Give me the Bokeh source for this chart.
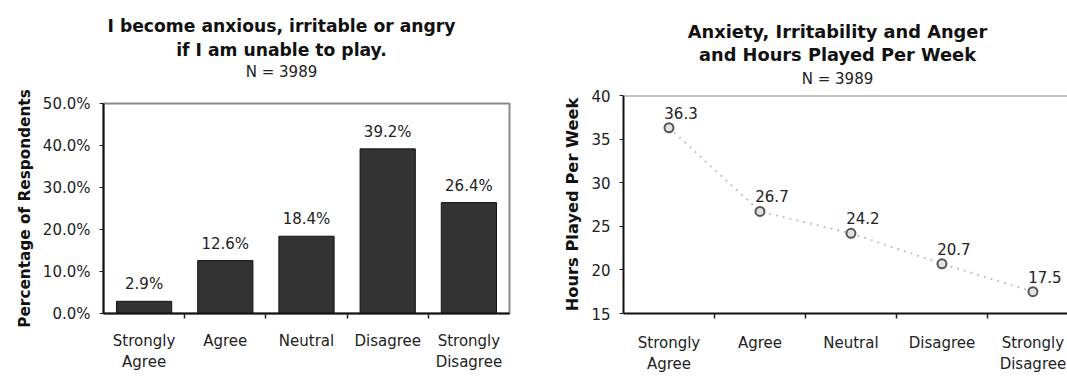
from bokeh.plotting import figure
from bokeh.layouts import row, column
from bokeh.models import (ColumnDataSource, FixedTicker, PrintfTickFormatter,
                          Span, Range1d)
from bokeh.core.properties import value
from bokeh.embed import file_html
from bokeh.resources import INLINE

# Survey responses
categories = ["Strongly Agree", "Agree", "Neutral", "Disagree", "Strongly Disagree"]
tick_labels = ["Strongly\nAgree", "Agree", "Neutral", "Disagree", "Strongly\nDisagree"]
pct_respondents = [2.9, 12.6, 18.4, 39.2, 26.4]
hours_per_week = [36.3, 26.7, 24.2, 20.7, 17.5]
sample_size = 3989

left_title = ["I become anxious, irritable or angry", "if I am unable to play."]
right_title = ["Anxiety, Irritability and Anger", "and Hours Played Per Week"]

FONT = "DejaVu Sans"
TXT = "#222222"
SIZE = "15px"
H = 376
positions = [i + 0.5 for i in range(len(categories))]
boundaries = [float(i) for i in range(1, len(categories))]
overrides = {p: lab for p, lab in zip(positions, tick_labels)}


def style_x_axis(p, standoff):
    ax = p.xaxis[0]
    ax.ticker = FixedTicker(ticks=positions, minor_ticks=boundaries)
    ax.major_label_overrides = overrides
    ax.major_tick_line_color = None
    ax.major_tick_out = 0
    ax.major_tick_in = 0
    ax.minor_tick_out = 5
    ax.minor_tick_in = 0
    ax.minor_tick_line_color = "#222222"
    ax.minor_tick_line_width = 1.5
    ax.major_label_standoff = standoff
    ax.major_label_text_font = FONT
    ax.major_label_text_font_size = SIZE
    ax.major_label_text_color = TXT
    ax.axis_line_color = "#111111"
    ax.axis_line_width = 2


def style_y_axis(p, label, label_size, ticks, fmt):
    ax = p.yaxis[0]
    ax.ticker = FixedTicker(ticks=ticks)
    ax.formatter = PrintfTickFormatter(format=fmt)
    ax.axis_label = label
    ax.axis_label_text_font = FONT
    ax.axis_label_text_font_style = "bold"
    ax.axis_label_text_font_size = label_size
    ax.axis_label_text_color = "#111111"
    ax.axis_label_standoff = 6
    ax.major_label_text_font = FONT
    ax.major_label_text_font_size = SIZE
    ax.major_label_text_color = TXT
    ax.major_label_standoff = 9
    ax.major_tick_out = 4
    ax.major_tick_in = 0
    ax.major_tick_line_color = "#222222"
    ax.minor_tick_line_color = None
    ax.axis_line_color = "#111111"
    ax.axis_line_width = 2


def header(width, height, frame_left, frame_right, cx, lines, centers,
           title_size):
    """A bare strip holding the two-line bold title and the sample size.

    The column layout lines its frame up with the chart's frame below, so
    its x range is expressed in the page's pixel columns over that span.
    """
    h = figure(width=width, height=height, output_backend="svg",
               toolbar_location=None,
               x_range=Range1d(frame_left, width - frame_right),
               y_range=Range1d(0, height), x_axis_location=None,
               y_axis_location=None, min_border=0)
    h.grid.visible = False
    h.outline_line_color = None
    src = ColumnDataSource(dict(x=[cx, cx], y=[height - c for c in centers[:2]],
                                t=lines))
    h.text(x="x", y="y", text="t", source=src, text_align="center",
           text_baseline="middle", text_font=value(FONT),
           text_font_style="bold", text_font_size=title_size,
           text_color="#111111")
    h.text(x=[cx], y=[height - centers[2]], text=[f"N = {sample_size}"],
           text_align="center", text_baseline="middle", text_font=value(FONT),
           text_font_size=SIZE, text_color=TXT)
    return h


# Left: percentage of respondents per answer
HEAD_L = 80
L_LEFT, L_RIGHT = 103, 31
p1 = figure(width=540, height=H - HEAD_L, output_backend="svg",
            toolbar_location=None,
            x_range=Range1d(0, 5), y_range=Range1d(0, 50),
            min_border_left=L_LEFT, min_border_right=L_RIGHT,
            min_border_top=103 - HEAD_L, min_border_bottom=63)
p1.grid.visible = False
p1.outline_line_color = "#8a8a8a"
p1.outline_line_width = 2

src1 = ColumnDataSource(dict(x=positions, y=pct_respondents,
                             lab=[f"{v:.1f}%" for v in pct_respondents]))
p1.vbar(x="x", top="y", bottom=0, width=0.68, source=src1,
        fill_color="#333333", line_color="#111111", line_width=1)
p1.text(x="x", y="y", text="lab", source=src1, text_align="center",
        text_baseline="bottom", y_offset=-8, text_font=value(FONT),
        text_font_size=SIZE, text_color=TXT)

style_x_axis(p1, 13)
style_y_axis(p1, "Percentage of Respondents", "15.3px",
             [0, 10, 20, 30, 40, 50], "%.1f%%")

# Right: average weekly hours played per answer
HEAD_R = 86
R_LEFT, R_RIGHT = 83, 0
p2 = figure(width=527, height=H - HEAD_R, output_backend="svg",
            toolbar_location=None,
            x_range=Range1d(0, 4.88), y_range=Range1d(15, 40),
            min_border_left=R_LEFT, min_border_right=R_RIGHT,
            min_border_top=95 - HEAD_R, min_border_bottom=57)
p2.grid.visible = False
p2.outline_line_color = None
p2.add_layout(Span(location=40, dimension="width", line_color="#8a8a8a",
                   line_width=2))

src2 = ColumnDataSource(dict(x=positions, y=hours_per_week,
                             lab=[f"{v:.1f}" for v in hours_per_week]))
p2.line(x="x", y="y", source=src2, line_color="#c4c4c4", line_width=2,
        line_dash="2 5")
p2.scatter(x="x", y="y", source=src2, size=9, marker="circle",
           fill_color="#e2e2e2", line_color="#555555", line_width=2)
p2.text(x="x", y="y", text="lab", source=src2, text_align="center",
        text_baseline="bottom", x_offset=12, y_offset=-9,
        text_font=value(FONT), text_font_size=SIZE, text_color=TXT)

style_x_axis(p2, 15)
style_y_axis(p2, "Hours Played Per Week", "16.3px",
             [15, 20, 25, 30, 35, 40], "%d")

h1 = header(540, HEAD_L, L_LEFT, L_RIGHT, 281, left_title, [25, 49.5, 71.5],
            "17.2px")
h2 = header(527, HEAD_R, R_LEFT, R_RIGHT, 297, right_title, [31, 54, 78],
            "17.8px")

layout = row(column(h1, p1), column(h2, p2))
open("out.html", "w").write(file_html(layout, INLINE))
